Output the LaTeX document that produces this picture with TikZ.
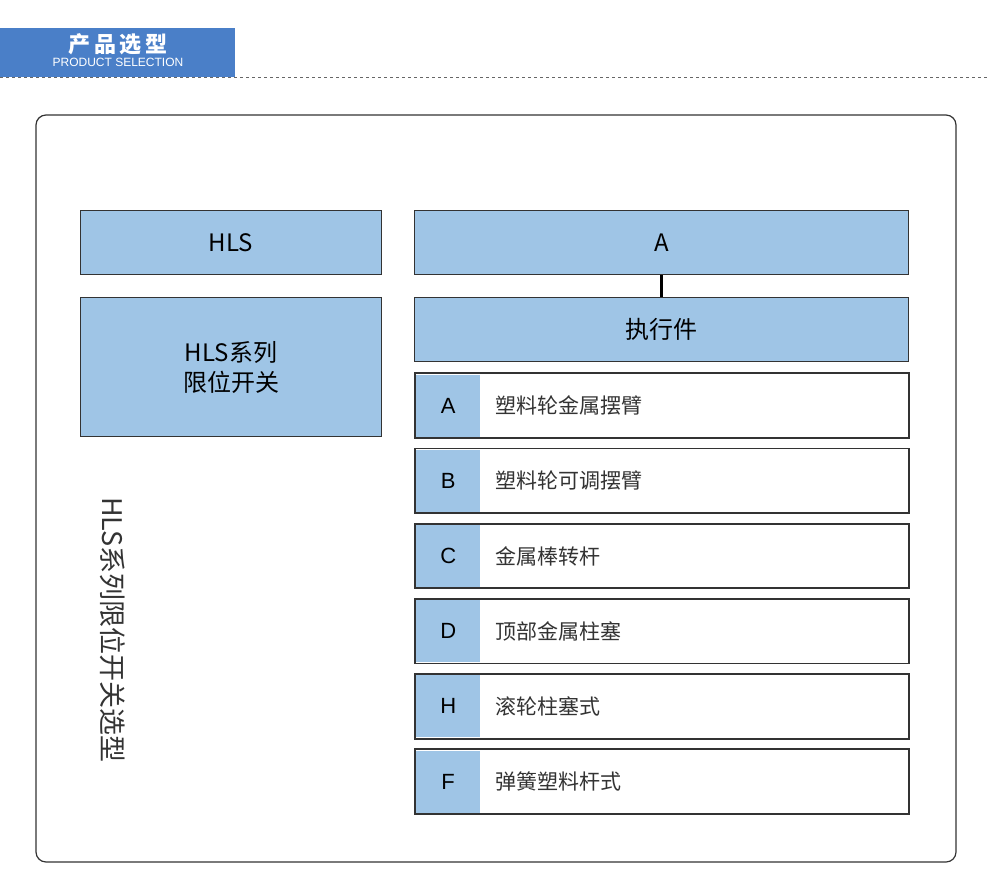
\documentclass[tikz,border=0pt]{standalone}
\usepackage{fontspec}
\setmainfont{Liberation Sans}
\newfontfamily\cjk{Noto Sans CJK SC}
\usetikzlibrary{positioning}
\definecolor{hdrblue}{HTML}{4A7FC8}
\definecolor{cellblue}{HTML}{9FC5E6}
\definecolor{txtgray}{HTML}{333333}
\begin{document}
\begin{tikzpicture}[x=1pt,y=-1pt,
    cell/.style={draw=txtgray,line width=1.2pt,fill=cellblue,inner sep=0pt,anchor=north west,font=\cjk\fontsize{24}{30}\selectfont,text=black},
    row/.style={draw=txtgray,line width=1.2pt,fill=white,minimum width=493pt,minimum height=64pt,inner sep=0pt,anchor=north west},
    key/.style={fill=cellblue,minimum width=64pt,minimum height=62pt,inner sep=0pt,anchor=west,font=\fontsize{22}{26}\selectfont},
    item/.style={anchor=west,font=\cjk\fontsize{21}{26}\selectfont,text=txtgray}]
    \useasboundingbox (0,0) rectangle (990,894);
    % header
    \fill [hdrblue] (0,28) rectangle (235,77);
    \node (hdr) [text=white,font=\cjk\bfseries\fontsize{22}{24}\selectfont] at (118,44) {产\,品\,选\,型};
    \node [text=white,font=\fontsize{12}{14}\selectfont,below=-4pt of hdr] {PRODUCT SELECTION};
    \draw [dashed,gray!80!black,line width=0.6pt] (0,77) -- (990,77);
    % frame
    \draw [txtgray,line width=1.2pt,rounded corners=10pt] (36,115) rectangle (956,862);
    % left column
    \node (hls) [cell,minimum width=301pt,minimum height=64pt] at (80,210) {HLS};
    \node (hlsname) [cell,minimum width=301pt,minimum height=139pt,align=center] at (80,297) {HLS系列\\限位开关};
    \node [rotate=-90,font=\cjk\fontsize{27}{30}\selectfont,text=txtgray] at (113,630) {HLS系列限位开关选型};
    % right column
    \node (code) [cell,minimum width=494pt,minimum height=64pt] at (414,210) {A};
    \node (actuator) [cell,minimum width=494pt,minimum height=64pt] at (414,297) {执行件};
    \draw [black,line width=3pt] (code.south) -- (actuator.north);
    \foreach \k/\t [count=\i from 0] in {A/塑料轮金属摆臂,B/塑料轮可调摆臂,C/金属棒转杆,D/顶部金属柱塞,H/滚轮柱塞式,F/弹簧塑料杆式} {
        \node (row\i) [row] at (415,373+75.2*\i) {};
        \node (key\i) [key] at ([xshift=1pt]row\i.west) {\k};
        \node [item] at ([xshift=12pt]key\i.east) {\t};
        \draw [txtgray,line width=1.2pt] (row\i.north west) rectangle (row\i.south east);
    }
\end{tikzpicture}
\end{document}
